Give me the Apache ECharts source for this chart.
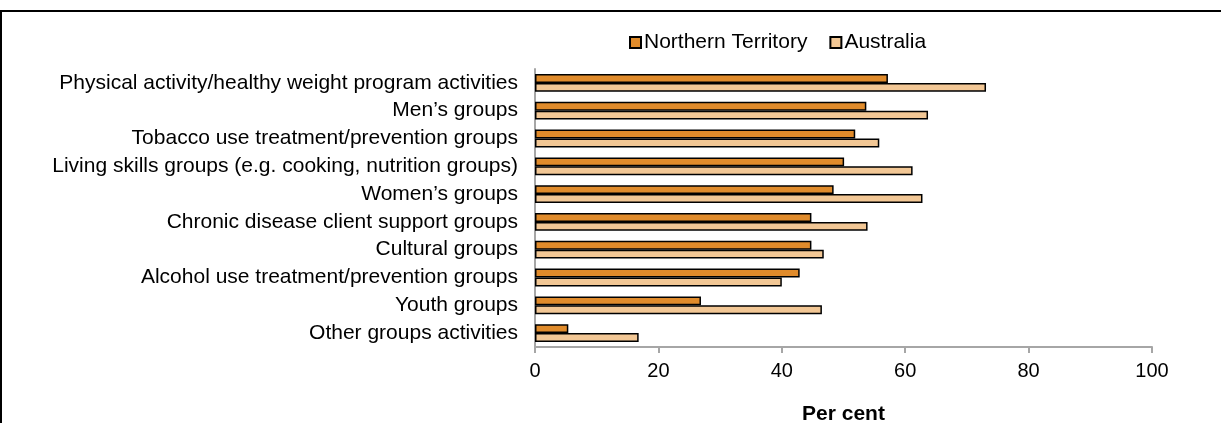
<!DOCTYPE html>
<html>
<head>
<meta charset="utf-8">
<script src="https://cdn.jsdelivr.net/npm/echarts@6/dist/echarts.min.js"></script>
<style>
html,body{margin:0;padding:0;background:#fff;}
#c{width:1221px;height:423px;}
</style>
</head>
<body>
<div id="c"></div>
<script>
const categories = [
  "Physical activity/healthy weight program activities",
  "Men\u2019s groups",
  "Tobacco use treatment/prevention groups",
  "Living skills groups (e.g. cooking, nutrition groups)",
  "Women\u2019s groups",
  "Chronic disease client support groups",
  "Cultural groups",
  "Alcohol use treatment/prevention groups",
  "Youth groups",
  "Other groups activities"
];
const northernTerritory = [57.2, 53.7, 51.9, 50.1, 48.4, 44.8, 44.8, 42.9, 26.9, 5.4];
const australia = [73.1, 63.7, 55.8, 61.2, 62.8, 53.9, 46.8, 40.0, 46.5, 16.8];
const seriesNames = ["Northern Territory", "Australia"];
const xTicks = {min: 0, max: 100, interval: 20};

const font = "'Liberation Sans', Arial, sans-serif";
const chart = echarts.init(document.getElementById('c'));
chart.setOption({
  animation: false,
  textStyle: {fontFamily: font},
  graphic: [
    {type: 'rect', shape: {x: 0, y: 10, width: 1221, height: 2}, style: {fill: '#000'}},
    {type: 'rect', shape: {x: 0, y: 10, width: 2, height: 413}, style: {fill: '#000'}}
  ],
  legend: {
    top: 27, left: 624, itemWidth: 11, itemHeight: 11, itemGap: 22,
    textStyle: {fontSize: 21, color: '#000', fontFamily: font, padding: [0, 0, 0, -2]},
    data: seriesNames.map(n => ({name: n, icon: 'rect'}))
  },
  grid: {left: 535, right: 69, top: 69, bottom: 76, containLabel: false, outerBoundsMode: 'none'},
  xAxis: {
    type: 'value', min: xTicks.min, max: xTicks.max, interval: xTicks.interval,
    name: 'Per cent', nameLocation: 'middle', nameGap: 57,
    nameTextStyle: {fontSize: 21, fontWeight: 'bold', color: '#000', fontFamily: font},
    axisLine: {show: true, lineStyle: {color: '#a6a6a6', width: 2}},
    axisTick: {show: true, length: 6, lineStyle: {color: '#a6a6a6', width: 2}},
    axisLabel: {fontSize: 20, color: '#000', margin: 14, fontFamily: font},
    splitLine: {show: false}
  },
  yAxis: {
    type: 'category', data: categories, inverse: true,
    axisLine: {show: true, lineStyle: {color: '#a6a6a6', width: 2}},
    axisTick: {show: false},
    axisLabel: {fontSize: 21, color: '#000', margin: 17, fontFamily: font, interval: 0}
  },
  series: [
    {name: seriesNames[0], type: 'bar', data: northernTerritory, barGap: '0%', barCategoryGap: '36%',
     itemStyle: {color: '#E08B2B', borderColor: '#000', borderWidth: 1.5}},
    {name: seriesNames[1], type: 'bar', data: australia, barGap: '0%', barCategoryGap: '36%',
     itemStyle: {color: '#F2C795', borderColor: '#000', borderWidth: 1.5}}
  ]
});
</script>
</body>
</html>
